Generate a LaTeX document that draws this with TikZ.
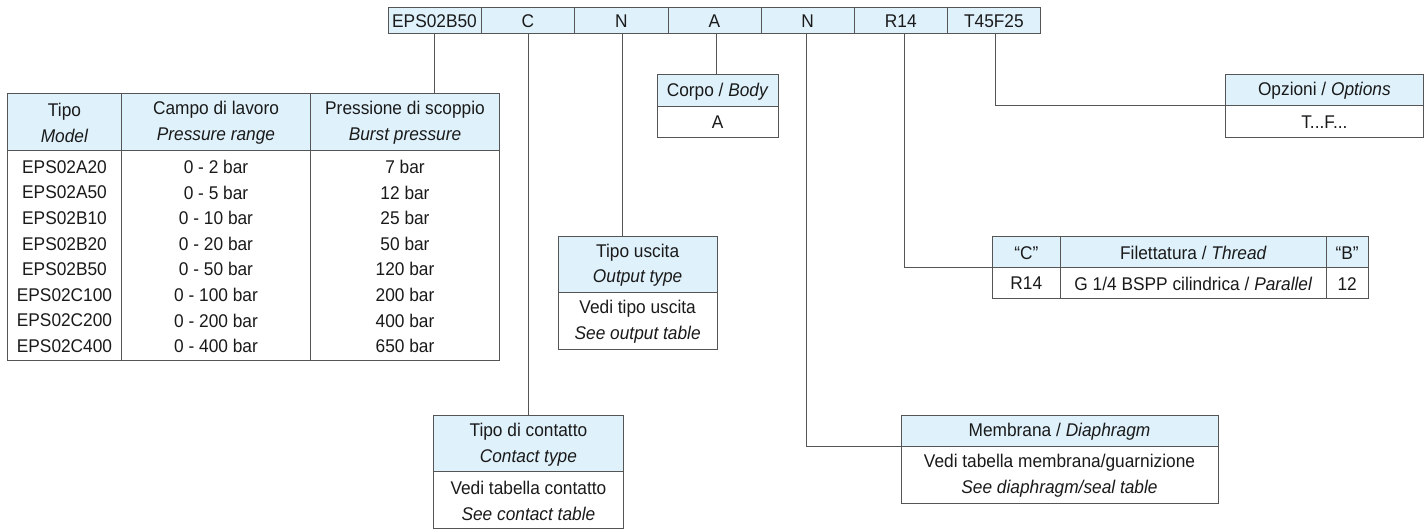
\documentclass[tikz,border=0pt]{standalone}
\usepackage{fontspec}
\setmainfont[FakeStretch=0.94]{Liberation Sans}
\definecolor{hdr}{HTML}{DFF1FB}
\definecolor{ln}{HTML}{555555}
\definecolor{tx}{HTML}{1A1A1A}
\tikzset{
 cell/.style={draw=ln,line width=0.9pt,inner sep=0pt,outer sep=0pt},
 celltext/.style={inner sep=0pt,outer sep=0pt,align=center,text=tx,yshift=-1pt,
   font=\fontsize{18.4}{25.6}\selectfont},
 head/.style={cell,fill=hdr},
 body/.style={cell,fill=white},
 link/.style={draw=ln,line width=0.9pt},
}
% \cellbox{style}{name}{x1}{y1}{x2}{y2}{text}
\newcommand{\cellbox}[7]{%
 \node[#1,minimum width={(#5-#3)*1pt},minimum height={(#6-#4)*1pt},
   label={[celltext,name=#2t]center:{#7}}] (#2) at ({(#3+#5)/2},{(#4+#6)/2}) {};}
\begin{document}
\begin{tikzpicture}[x=1pt,y=-1pt]
\useasboundingbox (0,0) rectangle (1424,530);
% top code row
\cellbox{head}{c1}{388}{7}{481}{33}{EPS02B50}
\cellbox{head}{c2}{481}{7}{574.5}{33}{C}
\cellbox{head}{c3}{574.5}{7}{668}{33}{N}
\cellbox{head}{c4}{668}{7}{761}{33}{A}
\cellbox{head}{c5}{761}{7}{854.3}{33}{N}
\cellbox{head}{c6}{854.3}{7}{947.3}{33}{R14}
\cellbox{head}{c7}{947.3}{7}{1040.5}{33}{T45F25}
% model table
\cellbox{head}{th1}{7.5}{93.5}{121.5}{150.5}{Tipo\\\textit{Model}}
\cellbox{head}{th2}{121.5}{93.5}{310.5}{150.5}{Campo di lavoro\\\textit{Pressure range}}
\cellbox{head}{th3}{310.5}{93.5}{499.5}{150.5}{Pressione di scoppio\\\textit{Burst pressure}}
\cellbox{body}{tb1}{7.5}{150.5}{121.5}{360.5}{EPS02A20\\EPS02A50\\EPS02B10\\EPS02B20\\EPS02B50\\EPS02C100\\EPS02C200\\EPS02C400}
\cellbox{body}{tb2}{121.5}{150.5}{310.5}{360.5}{0 - 2 bar\\0 - 5 bar\\0 - 10 bar\\0 - 20 bar\\0 - 50 bar\\0 - 100 bar\\0 - 200 bar\\0 - 400 bar}
\cellbox{body}{tb3}{310.5}{150.5}{499.5}{360.5}{7 bar\\12 bar\\25 bar\\50 bar\\120 bar\\200 bar\\400 bar\\650 bar}
% body
\cellbox{head}{bh}{657.4}{74.7}{778}{106}{Corpo / \textit{Body}}
\cellbox{body}{bb}{657.4}{106}{778}{137}{A}
% options
\cellbox{head}{oh}{1225.7}{74.7}{1423}{105.7}{Opzioni / \textit{Options}}
\cellbox{body}{ob}{1225.7}{105.7}{1423}{137}{T...F...}
% thread
\cellbox{head}{rh1}{992.2}{236.3}{1060.5}{267.3}{“C”}
\cellbox{head}{rh2}{1060.5}{236.3}{1326.3}{267.3}{Filettatura / \textit{Thread}}
\cellbox{head}{rh3}{1326.3}{236.3}{1368}{267.3}{“B”}
\cellbox{body}{rb1}{992.2}{267.3}{1060.5}{298}{R14}
\cellbox{body}{rb2}{1060.5}{267.3}{1326.3}{298}{G 1/4 BSPP cilindrica / \textit{Parallel}}
\cellbox{body}{rb3}{1326.3}{267.3}{1368}{298}{12}
% output
\cellbox{head}{uh}{558.2}{236}{717.1}{292.7}{Tipo uscita\\\textit{Output type}}
\cellbox{body}{ub}{558.2}{292.7}{717.1}{349.3}{Vedi tipo uscita\\\textit{See output table}}
% contact
\cellbox{head}{kh}{433.6}{415.3}{623.2}{471.7}{Tipo di contatto\\\textit{Contact type}}
\cellbox{body}{kb}{433.6}{471.7}{623.2}{528.7}{Vedi tabella contatto\\\textit{See contact table}}
% diaphragm
\cellbox{head}{mh}{901}{415.3}{1218}{446.3}{Membrana / \textit{Diaphragm}}
\cellbox{body}{mb}{901}{446.3}{1218}{503}{Vedi tabella membrana/guarnizione\\\textit{See diaphragm/seal table}}
% connectors
\draw[link] (c1.south -| 434.3,0) -- (th3.north -| 434.3,0);
\draw[link] (c2.south -| 528.8,0) -- (kh.north -| 528.8,0);
\draw[link] (c3.south -| 622.9,0) -- (uh.north -| 622.9,0);
\draw[link] (c4.south -| 716,0) -- (bh.north -| 716,0);
\draw[link] (c5.south -| 806.6,0) |- (mh.south west);
\draw[link] (c6.south -| 904,0) |- (rh1.south west);
\draw[link] (c7.south -| 995.2,0) |- (oh.south west);
\end{tikzpicture}
\end{document}
